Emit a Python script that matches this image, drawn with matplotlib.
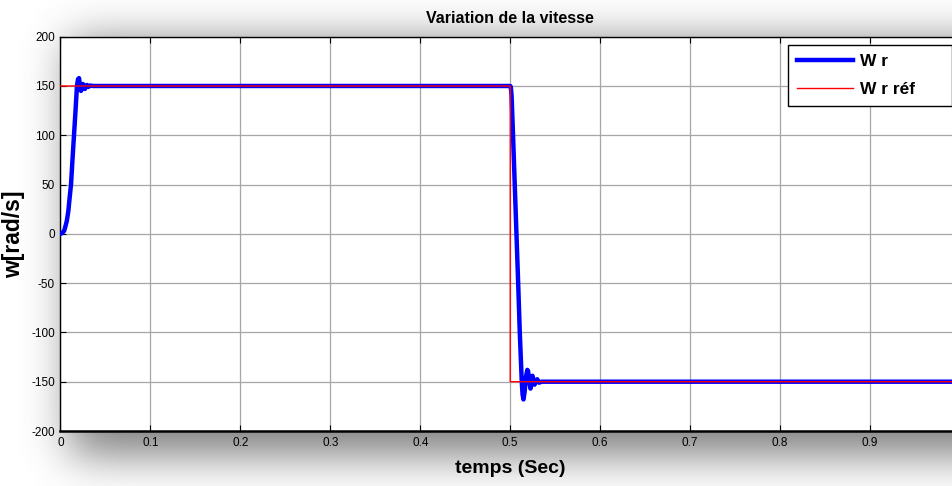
import numpy as np
import matplotlib
matplotlib.use("Agg")
import matplotlib.pyplot as plt
from matplotlib import font_manager as fm

plt.rcParams["axes.unicode_minus"] = False

# ---------------- data ----------------
t_wr = [0.0, 0.002, 0.004, 0.005, 0.007, 0.0087, 0.0102, 0.0117, 0.0133, 0.015,
        0.0167, 0.0183, 0.0195, 0.0206, 0.0217, 0.0228, 0.0239, 0.025, 0.0261,
        0.0272, 0.0283, 0.0294, 0.031, 0.033, 0.036,
        0.5, 0.5006, 0.5015, 0.5031, 0.505, 0.5069, 0.5088, 0.5106, 0.5128,
        0.5137, 0.5147, 0.516, 0.5175, 0.519, 0.5198, 0.5212, 0.5225, 0.5236,
        0.5247, 0.5258, 0.527, 0.528, 0.530, 0.532, 0.535, 1.0]
w_r = [0, 1, 3, 6, 13, 23, 37, 50, 75, 100,
       125, 150, 157, 158, 150, 145, 150, 152, 148,
       147, 150, 151, 149, 150.5, 150,
       150, 149, 140, 100, 50, 0, -50, -100, -150,
       -163, -168, -160, -145, -138, -139, -150, -157, -152,
       -144, -148, -153, -151, -147.5, -151, -150, -150]

t_ref = [0.0, 0.5, 0.5, 1.0]
w_ref = [150, 150, -150, -150]

xticks = [0, 0.1, 0.2, 0.3, 0.4, 0.5, 0.6, 0.7, 0.8, 0.9]
xtick_labels = ["0", "0.1", "0.2", "0.3", "0.4", "0.5", "0.6", "0.7", "0.8", "0.9"]
yticks = [-200, -150, -100, -50, 0, 50, 100, 150, 200]

title = "Variation de la vitesse"
xlabel = "temps (Sec)"
ylabel = "w[rad/s]"
labels = ["W r", "W r réf"]

# ---------------- figure ----------------
W, H = 953, 486
fig = plt.figure(figsize=(W / 100, H / 100), dpi=100)
fig.patch.set_facecolor("white")

names = {f.name for f in fm.fontManager.ttflist}
narrow = "Liberation Sans Narrow" if "Liberation Sans Narrow" in names else "Liberation Sans"
fam_n = [narrow, "DejaVu Sans"]
fam_r = ["Liberation Sans", "DejaVu Sans"]

# soft drop shadow behind the axes (figure background)
def gblur(a, s):
    r = int(3 * s)
    k = np.exp(-0.5 * (np.arange(-r, r + 1) / s) ** 2)
    k /= k.sum()
    a = np.apply_along_axis(lambda v: np.convolve(np.pad(v, r, mode="edge"), k, mode="valid"), 0, a)
    a = np.apply_along_axis(lambda v: np.convolve(np.pad(v, r, mode="edge"), k, mode="valid"), 1, a)
    return a

mask = np.zeros((H, W))
mask[42:455, 70:W] = 1.0
sh = gblur(mask, 22)
img = np.ones((H, W, 4))
img[..., :3] = 0.3
img[..., 3] = 0.72 * sh
bg = fig.add_axes([0, 0, 1, 1], zorder=-10)
bg.imshow(img, extent=[0, 1, 0, 1], aspect="auto", interpolation="bilinear")
bg.set_axis_off()

x0, x1 = 60.5, 960.0
ytop, ybot = 36.7, 431.0
ax = fig.add_axes([x0 / W, (H - ybot) / H, (x1 - x0) / W, (ybot - ytop) / H])
ax.set_facecolor("white")

ax.plot(t_wr, w_r, color="#0000ff", lw=3.2, label=labels[0], solid_joinstyle="round",
        zorder=3, snap=False)
ax.plot(t_ref, w_ref, color="#ff0000", lw=1, label=labels[1], zorder=4, snap=False)

ax.set_xlim(0, 1)
ax.set_ylim(-200, 200)
ax.set_xticks(xticks)
ax.set_xticklabels(xtick_labels)
ax.set_yticks(yticks)
ax.grid(True, color="#a6a6a6", lw=0.9, ls="-")
ax.set_axisbelow(True)
ax.tick_params(direction="in", length=4, width=0.8, labelsize=8.5, pad=4,
               top=True, right=True, colors="black")
for lab in ax.get_xticklabels() + ax.get_yticklabels():
    lab.set_family(fam_r)
for s in ax.spines.values():
    s.set_color("black")
    s.set_linewidth(1.0)
ax.spines["bottom"].set_linewidth(1.8)

ax.set_title(title, fontsize=11.5, fontweight="bold", family=fam_n, pad=10)
ax.set_xlabel(xlabel, fontsize=14, fontweight="bold", family=fam_n, labelpad=8)
ax.set_ylabel(ylabel, fontsize=16.5, fontweight="bold", family=fam_r)
ax.yaxis.set_label_coords((25 - x0) / (x1 - x0), 0.5)

lx0 = (788 - x0) / (x1 - x0)
lx1 = (952 - x0) / (x1 - x0)
ltop = 1 - (44.7 - ytop) / (ybot - ytop)
leg = ax.legend(loc="upper left", bbox_to_anchor=(lx0, ltop - 0.2, lx1 - lx0, 0.2),
                mode="expand", borderaxespad=0,
                fancybox=False, framealpha=1, edgecolor="black",
                prop={"family": fam_n, "weight": "bold", "size": 12.5},
                handlelength=3.2, handletextpad=0.4, labelspacing=0.76,
                borderpad=0.52)
leg.get_frame().set_linewidth(1.0)

fig.savefig("out.png", dpi=100)
